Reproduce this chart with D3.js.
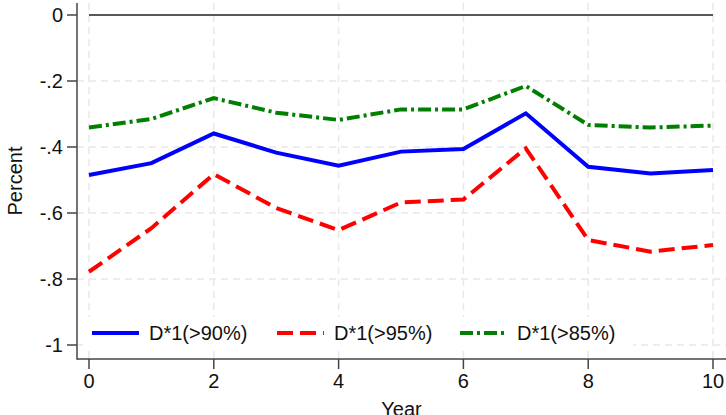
<!DOCTYPE html>
<html>
<head>
<meta charset="utf-8">
<script src="https://cdn.jsdelivr.net/npm/d3@7"></script>
<style>
  body { margin: 0; background: #fff; }
  text { font-family: "Liberation Sans", Arial, sans-serif; }
</style>
</head>
<body>
<script>
// Data
var years = [0, 1, 2, 3, 4, 5, 6, 7, 8, 9, 10];
var d90 = [-0.485, -0.449, -0.359, -0.417, -0.457, -0.414, -0.406, -0.298, -0.460, -0.480, -0.470];
var d95 = [-0.778, -0.646, -0.482, -0.585, -0.652, -0.568, -0.559, -0.404, -0.682, -0.717, -0.697];
var d85 = [-0.341, -0.315, -0.252, -0.296, -0.318, -0.286, -0.286, -0.215, -0.333, -0.341, -0.335];
var xTicks = [0, 2, 4, 6, 8, 10];
var yTicks = [0, -0.2, -0.4, -0.6, -0.8, -1];
var yTickLabels = ["0", "-.2", "-.4", "-.6", "-.8", "-1"];
var seriesNames = ["D*1(>90%)", "D*1(>95%)", "D*1(>85%)"];

var width = 726, height = 415;
var svg = d3.select("body").append("svg")
    .attr("width", width)
    .attr("height", height);

// Scales (plot area: axis at x=77, bottom axis at y=359)
var x = d3.scaleLinear().domain([0, 10]).range([89, 713]);
var y = d3.scaleLinear().domain([-1, 0]).range([345, 15]);
var plotLeft = 77, plotBottom = 359, plotTop = 3, plotRight = width;
var fs = 20;

// grid lines
var grid = svg.append("g");
grid.selectAll(".vg").data(xTicks).enter().append("line")
    .attr("x1", function (d) { return x(d); })
    .attr("x2", function (d) { return x(d); })
    .attr("y1", plotTop).attr("y2", plotBottom)
    .attr("stroke", "#e8e8e8").attr("stroke-width", 1.5)
    .attr("stroke-dasharray", "7,5");
grid.selectAll(".hg").data(yTicks.slice(1)).enter().append("line")
    .attr("x1", plotLeft).attr("x2", plotRight)
    .attr("y1", function (d) { return y(d); })
    .attr("y2", function (d) { return y(d); })
    .attr("stroke", "#e8e8e8").attr("stroke-width", 1.5)
    .attr("stroke-dasharray", "7,5");

// zero reference line
svg.append("line")
    .attr("x1", x(0)).attr("x2", x(10))
    .attr("y1", y(0)).attr("y2", y(0))
    .attr("stroke", "#222").attr("stroke-width", 1.6);

// series lines
var line = d3.line()
    .x(function (d, i) { return x(years[i]); })
    .y(function (d) { return y(d); });

var series = [
    { values: d90, color: "#0000ff", dash: null },
    { values: d95, color: "#ff0000", dash: "16,7" },
    { values: d85, color: "#007f00", dash: "13,4,3,4" }
];
series.forEach(function (s) {
    svg.append("path")
        .datum(s.values)
        .attr("d", line)
        .attr("fill", "none")
        .attr("stroke", s.color)
        .attr("stroke-width", 4)
        .attr("stroke-dasharray", s.dash);
});

// legend, with a white box that hides the grid
svg.append("rect")
    .attr("x", 83).attr("y", 317)
    .attr("width", 550).attr("height", 33)
    .attr("fill", "#fff");
var legendX = [92, 277, 460];
seriesNames.forEach(function (name, i) {
    var g = svg.append("g").attr("transform", "translate(" + legendX[i] + ",333)");
    g.append("line")
        .attr("x1", 0).attr("x2", 47)
        .attr("stroke", series[i].color)
        .attr("stroke-width", 4)
        .attr("stroke-dasharray", series[i].dash);
    g.append("text")
        .attr("x", 57).attr("y", 7)
        .attr("font-size", fs)
        .attr("fill", "#111")
        .text(name);
});

// axes
svg.append("line")
    .attr("x1", plotLeft).attr("x2", plotLeft)
    .attr("y1", plotTop).attr("y2", plotBottom + 0.75)
    .attr("stroke", "#444").attr("stroke-width", 1.5);
svg.append("line")
    .attr("x1", plotLeft).attr("x2", plotRight)
    .attr("y1", plotBottom).attr("y2", plotBottom)
    .attr("stroke", "#444").attr("stroke-width", 1.5);

svg.selectAll(".yt").data(yTicks).enter().append("line")
    .attr("x1", plotLeft - 10).attr("x2", plotLeft)
    .attr("y1", function (d) { return y(d); })
    .attr("y2", function (d) { return y(d); })
    .attr("stroke", "#444").attr("stroke-width", 1.5);
svg.selectAll(".ytl").data(yTicks).enter().append("text")
    .attr("x", 63)
    .attr("y", function (d) { return y(d) + 7; })
    .attr("text-anchor", "end")
    .attr("font-size", fs)
    .attr("fill", "#111")
    .text(function (d, i) { return yTickLabels[i]; });

svg.selectAll(".xt").data(xTicks).enter().append("line")
    .attr("x1", function (d) { return x(d); })
    .attr("x2", function (d) { return x(d); })
    .attr("y1", plotBottom).attr("y2", plotBottom + 10)
    .attr("stroke", "#444").attr("stroke-width", 1.5);
svg.selectAll(".xtl").data(xTicks).enter().append("text")
    .attr("x", function (d) { return x(d); })
    .attr("y", 388)
    .attr("text-anchor", "middle")
    .attr("font-size", fs)
    .attr("fill", "#111")
    .text(function (d) { return d; });

// axis titles
svg.append("text")
    .attr("x", (plotLeft + plotRight) / 2)
    .attr("y", 416)
    .attr("text-anchor", "middle")
    .attr("font-size", fs)
    .attr("fill", "#111")
    .text("Year");
svg.append("text")
    .attr("transform", "translate(22," + ((plotTop + plotBottom) / 2) + ") rotate(-90)")
    .attr("text-anchor", "middle")
    .attr("font-size", fs)
    .attr("fill", "#111")
    .text("Percent");
</script>
</body>
</html>
